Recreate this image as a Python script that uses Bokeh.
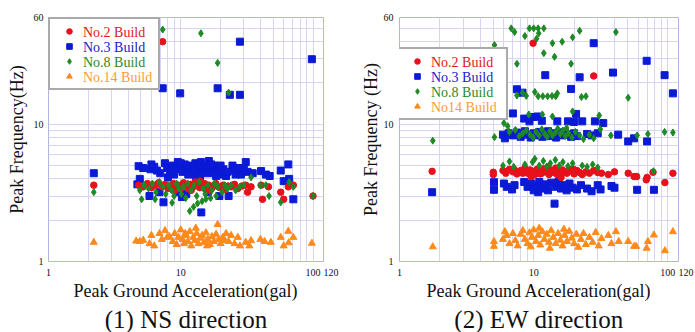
from bokeh.plotting import figure
from bokeh.models import (FixedTicker, Legend, LegendItem, Title, Range1d,
                          NumeralTickFormatter)
from bokeh.layouts import row
from bokeh.embed import file_html
from bokeh.resources import INLINE

# ---------------- axes -----------------
X_MIN, X_MAX = 1, 120
Y_MIN, Y_MAX = 1, 60
X_TICKS = [1, 10, 100, 120]
X_TICK_LABELS = {1: "1", 10: "10", 100: "100", 120: "\u2007\u2007\u2007120"}
X_MINOR = [2, 3, 4, 5, 6, 7, 8, 9, 20, 30, 40, 50, 60, 70, 80, 90]
Y_TICKS = [1, 10, 60]
Y_MINOR = [2, 3, 4, 5, 6, 7, 8, 9, 20, 30, 40, 50]
SERIES_NAMES_NS = ["No.2 Build", "No.3 Build", "No.8 Build", "No.14 Build"]
SERIES_NAMES_EW = ["No.2 Build", "No.3 Build", "No.8 Build", "No14 Build"]

# ---------------- NS direction data -----------------
ns_no2_x = [2.2, 7.3, 100, 4.8, 5.2, 5.6, 6.0, 6.4, 6.8, 7.2,
            7.6, 8.0, 8.4, 8.8, 9.2, 9.6, 10.1, 10.5, 11.0, 11.4,
            11.9, 12.4, 12.9, 13.4, 13.9, 14.5, 15.1, 15.7, 16.3, 17.0,
            17.7, 18.4, 19.2, 20.0, 20.9, 21.8, 22.8, 24.0, 25.5, 27.0,
            29.0, 31.0, 32.0, 34.0, 40.5, 41.5, 46.0, 57.0, 60.0, 65.0,
            71.0, 12.0, 14.0, 9.0, 16.5]
ns_no2_y = [3.6, 40, 3.0, 3.6, 3.5, 3.7, 3.45, 3.6, 3.75, 3.5,
            3.65, 3.4, 3.55, 3.7, 3.5, 3.6, 3.45, 3.75, 3.55, 3.4,
            3.65, 3.5, 3.8, 3.6, 3.45, 3.55, 3.7, 3.5, 3.6, 3.4,
            3.55, 3.7, 3.5, 3.45, 3.6, 3.35, 3.55, 3.5, 3.65, 3.4,
            3.55, 3.6, 3.2, 3.5, 3.6, 2.84, 3.5, 3.2, 2.84, 3.5,
            3.6, 3.3, 3.85, 3.3, 3.3]

ns_no3_x = [2.2, 7.3, 9.9, 19.0, 23.5, 28.0, 28.0, 98.0, 4.8, 5.2,
            5.9, 6.3, 6.6, 7.6, 7.9, 8.3, 8.7, 9.1, 9.5, 9.9,
            10.3, 10.7, 11.1, 11.6, 12.0, 12.4, 12.9, 13.3, 13.8, 14.2,
            14.7, 15.2, 15.7, 16.3, 16.9, 17.5, 18.1, 18.8, 19.5, 20.3,
            21.0, 24.6, 25.5, 27.0, 28.5, 31.0, 32.0, 40.5, 44.0, 47.0,
            57.0, 65.0, 66.0, 60.0, 4.9, 4.7, 5.8, 6.9, 7.4, 9.3,
            10.2, 11.0, 14.3, 16.0, 19.6, 23.0, 71.0, 8.0, 13.0, 22.0,
            6.0, 7.0, 8.9, 10.0, 11.4, 12.7, 14.0, 15.5, 17.0, 18.5,
            20.0, 22.5, 26.0, 30.0, 35.0]
ns_no3_y = [4.4, 18.3, 16.8, 18.3, 16.4, 16.4, 40.0, 29.8, 4.95, 4.8,
            4.7, 4.9, 4.6, 5.2, 4.8, 4.5, 5.0, 4.7, 5.3, 4.9,
            4.5, 5.1, 4.7, 5.0, 4.4, 4.8, 5.2, 4.6, 4.9, 5.3,
            4.5, 5.0, 4.7, 5.4, 4.8, 4.4, 5.0, 4.6, 4.9, 4.3,
            4.7, 5.0, 4.6, 4.8, 4.3, 5.3, 4.5, 4.56, 4.3, 4.2,
            4.6, 5.1, 4.0, 3.85, 4.0, 3.65, 3.0, 3.2, 2.7, 3.2,
            2.95, 3.1, 2.28, 3.2, 3.0, 3.0, 2.84, 4.1, 4.2, 4.2,
            5.1, 4.4, 4.3, 5.2, 4.3, 4.6, 4.2, 4.4, 5.1, 4.2,
            5.0, 4.5, 4.3, 4.8, 4.4]

ns_no8_x = [2.2, 7.3, 14.2, 19.0, 23.0, 100.0, 5.06, 6.4, 8.6, 4.9,
            5.3, 5.7, 6.1, 6.5, 6.9, 7.3, 7.7, 8.1, 8.5, 8.9,
            9.3, 9.7, 10.1, 10.5, 10.9, 11.3, 11.7, 12.5, 13.4, 14.5,
            15.5, 16.8, 18.5, 12.0, 12.6, 13.2, 13.8, 14.8, 15.3, 16.0,
            17.2, 18.0, 19.0, 20.5, 21.5, 22.5, 24.0, 26.0, 34.0, 40.0,
            44.0, 46.5, 57.0, 66.0, 71.0, 28.0, 30.0]
ns_no8_y = [3.2, 49.0, 46.0, 28.0, 17.0, 3.0, 2.84, 2.84, 2.68, 3.3,
            3.6, 3.4, 3.7, 3.2, 3.8, 3.5, 3.1, 3.6, 3.3, 3.0,
            3.7, 3.4, 3.1, 3.5, 2.9, 3.7, 2.33, 2.5, 2.65, 2.75,
            2.85, 2.9, 3.0, 3.3, 3.6, 3.0, 3.8, 3.4, 3.1, 3.6,
            3.3, 3.7, 3.5, 3.2, 3.6, 3.4, 3.6, 3.3, 4.1, 3.6,
            3.6, 3.0, 2.7, 3.8, 3.5, 3.5, 3.6]

ns_no14_x = [2.2, 4.6, 4.9, 5.2, 5.8, 6.0, 6.3, 6.9, 7.2, 7.6,
             7.9, 8.7, 9.0, 9.3, 9.6, 10.0, 10.3, 10.6, 11.0, 11.3,
             11.7, 12.0, 12.4, 12.8, 13.2, 13.6, 14.0, 14.5, 15.0, 15.5,
             16.0, 16.6, 17.2, 17.8, 18.5, 19.0, 19.3, 20.0, 20.8, 21.5,
             22.0, 23.0, 24.0, 25.5, 27.0, 28.0, 31.0, 33.0, 34.0, 40.0,
             43.0, 48.0, 57.0, 60.0, 65.0, 65.5, 71.0, 98.0, 8.2, 10.8,
             13.0, 15.8]
ns_no14_y = [1.38, 1.41, 1.4, 1.43, 1.35, 1.55, 1.3, 1.6, 1.45, 1.68,
             1.5, 1.4, 1.6, 1.33, 1.5, 1.7, 1.45, 1.35, 1.55, 1.4,
             1.65, 1.3, 1.5, 1.42, 1.6, 1.35, 1.48, 1.55, 1.38, 1.62,
             1.45, 1.33, 1.52, 1.4, 1.58, 1.86, 1.45, 1.35, 1.5, 1.42,
             1.6, 1.4, 1.55, 1.35, 1.5, 1.3, 1.38, 1.3, 1.42, 1.45,
             1.4, 1.38, 1.5, 1.3, 1.66, 1.37, 1.5, 1.36, 1.52, 1.6,
             1.75, 1.3]

# ---------------- EW direction data -----------------
ew_no2_x = [1.75, 9.9, 28.0, 5.0, 5.0, 5.9, 6.2, 6.6, 7.0, 7.5,
            8.0, 8.6, 9.0, 9.4, 9.8, 10.2, 10.6, 11.0, 11.5, 12.0,
            12.5, 13.0, 13.5, 14.0, 14.6, 15.2, 15.8, 16.4, 17.0, 17.7,
            18.4, 19.2, 20.0, 21.0, 22.0, 23.0, 24.5, 26.0, 28.0, 30.0,
            32.0, 50.6, 56.0, 58.5, 69.0, 70.0, 77.5, 95.0, 109.0, 36.0,
            40.0, 9.6, 12.8, 16.0, 10.4, 11.2, 13.2, 15.0, 18.0, 19.8,
            7.2, 8.3]
ew_no2_y = [4.54, 39.0, 22.5, 4.47, 4.3, 4.6, 4.4, 4.7, 4.5, 4.35,
            4.6, 4.8, 4.4, 4.65, 4.5, 4.3, 4.7, 4.55, 4.4, 4.75,
            4.5, 4.3, 4.6, 4.45, 4.8, 4.5, 4.35, 4.65, 4.5, 4.4,
            4.7, 4.55, 4.35, 4.6, 4.45, 4.3, 4.5, 4.4, 4.6, 4.45,
            4.4, 4.4, 4.16, 4.16, 3.94, 4.1, 4.47, 3.76, 4.4, 4.3,
            4.5, 4.15, 4.9, 4.1, 4.5, 4.35, 4.55, 4.3, 4.5, 4.7,
            4.65, 4.4]

ew_no3_x = [1.75, 28.0, 12.2, 22.0, 39.0, 69.5, 94.5, 109.0, 7.5, 8.25,
            19.0, 7.0, 8.5, 9.3, 10.0, 10.7, 11.5, 15.0, 18.0, 20.0,
            20.7, 23.0, 28.6, 33.0, 5.9, 6.1, 6.5, 7.0, 7.5, 8.0,
            8.6, 9.0, 9.5, 10.0, 10.5, 11.0, 11.6, 12.2, 12.8, 13.4,
            14.0, 14.7, 15.4, 16.2, 17.0, 18.0, 19.0, 20.0, 21.0, 25.0,
            27.0, 30.0, 42.6, 50.6, 56.0, 70.0, 5.06, 5.06, 6.0, 6.3,
            6.9, 7.2, 8.5, 9.0, 9.6, 10.0, 10.4, 11.0, 11.6, 12.2,
            12.8, 13.5, 14.3, 14.6, 15.3, 16.0, 16.8, 17.6, 18.5, 19.5,
            21.0, 22.5, 25.0, 27.0, 30.0, 31.5, 38.0, 40.0, 59.0, 78.7,
            10.8]
ew_no3_y = [3.2, 39.0, 22.8, 22.0, 23.8, 29.0, 22.8, 16.8, 18.0, 17.0,
            18.1, 12.0, 11.0, 10.5, 11.3, 11.4, 10.6, 10.5, 10.5, 10.4,
            11.9, 10.5, 10.5, 10.2, 8.4, 7.9, 8.6, 8.3, 8.7, 8.1,
            8.9, 8.4, 8.0, 8.6, 8.3, 8.8, 8.1, 8.5, 8.9, 8.2,
            8.6, 8.0, 8.7, 8.3, 8.8, 8.4, 8.1, 8.6, 8.2, 8.5,
            8.3, 8.6, 8.4, 7.5, 7.9, 7.5, 3.78, 3.33, 3.7, 3.5,
            3.35, 3.6, 3.8, 3.5, 3.7, 3.3, 3.55, 3.8, 3.4, 3.65,
            3.3, 3.75, 2.64, 3.5, 3.8, 3.4, 3.6, 3.3, 3.7, 3.45,
            3.35, 3.6, 3.4, 3.25, 3.6, 3.35, 3.55, 3.45, 3.33, 3.33,
            3.2]

ew_no8_x = [6.8, 7.2, 8.6, 9.3, 10.0, 10.8, 11.9, 10.5, 10.9, 13.8,
            16.3, 19.5, 22.0, 41.0, 5.1, 11.9, 14.3, 7.5, 19.0, 7.5,
            8.25, 8.8, 10.2, 10.8, 11.7, 12.7, 13.7, 14.6, 15.0, 22.7,
            24.5, 50.6, 1.77, 5.1, 6.1, 6.0, 6.4, 9.2, 11.6, 13.8,
            19.5, 30.8, 6.6, 7.3, 7.8, 8.3, 8.8, 9.4, 9.9, 10.4,
            11.0, 11.5, 12.1, 12.6, 13.2, 13.8, 14.5, 15.1, 15.8, 16.5,
            17.2, 17.6, 18.2, 19.3, 20.5, 22.0, 23.5, 26.0, 28.0, 31.4,
            37.6, 59.0, 71.0, 94.5, 109.0, 5.9, 6.6, 7.1, 8.6, 9.8,
            10.2, 11.0, 11.8, 12.5, 13.3, 14.5, 15.5, 16.5, 18.0, 19.5,
            23.0, 25.0, 27.5, 30.0, 78.0]
ew_no8_y = [50.0, 47.0, 44.0, 50.0, 50.0, 50.0, 50.0, 42.0, 46.0, 39.0,
            40.0, 43.0, 48.0, 47.0, 37.8, 33.0, 31.0, 27.6, 27.6, 16.2,
            17.0, 16.1, 17.2, 16.0, 16.0, 16.0, 16.1, 16.0, 16.8, 15.8,
            16.0, 15.6, 7.6, 8.06, 12.0, 10.2, 9.7, 11.8, 11.8, 11.4,
            12.4, 11.6, 8.8, 9.1, 8.2, 8.6, 9.0, 8.4, 8.0, 8.8,
            8.3, 9.2, 8.5, 8.1, 8.9, 8.3, 8.7, 9.3, 8.5, 9.0,
            8.2, 9.4, 8.6, 8.0, 8.8, 8.3, 7.8, 8.4, 7.9, 9.2,
            8.3, 8.3, 8.5, 8.8, 8.7, 4.99, 5.36, 4.9, 5.1, 5.3,
            5.6, 5.0, 5.4, 4.9, 5.2, 5.5, 5.0, 5.3, 4.95, 5.2,
            5.0, 4.9, 5.1, 4.85, 4.55]

ew_no14_x = [1.77, 5.06, 5.06, 5.9, 6.1, 6.3, 6.6, 7.0, 7.3, 7.6,
             8.0, 8.3, 8.6, 9.0, 9.3, 9.7, 10.0, 10.4, 10.8, 11.2,
             11.6, 12.0, 12.5, 13.0, 13.5, 14.0, 14.6, 15.2, 15.8, 16.4,
             17.0, 17.7, 18.4, 19.2, 20.0, 20.8, 21.5, 22.5, 23.5, 24.5,
             26.0, 27.5, 29.0, 30.5, 32.0, 36.0, 38.0, 41.0, 43.0, 50.6,
             56.0, 58.0, 69.5, 71.0, 78.7, 95.0, 109.0, 11.0, 13.2, 16.8,
             9.5]
ew_no14_y = [1.28, 1.4, 1.29, 1.45, 1.65, 1.55, 1.35, 1.6, 1.42, 1.3,
             1.58, 1.68, 1.45, 1.35, 1.62, 1.5, 1.7, 1.4, 1.55, 1.32,
             1.65, 1.45, 1.58, 1.38, 1.68, 1.5, 1.35, 1.6, 1.43, 1.3,
             1.55, 1.4, 1.66, 1.48, 1.35, 1.58, 1.27, 1.45, 1.6, 1.33,
             1.5, 1.38, 1.63, 1.3, 1.47, 1.55, 1.35, 1.65, 1.4, 1.4,
             1.29, 1.29, 1.25, 1.4, 1.56, 1.2, 1.65, 1.75, 1.25, 1.72,
             1.28]

# ---------------- styles -----------------
SERIF = "Liberation Serif"
GRID = "#d6d6f4"
FRAME = "#b4b4e6"
C_RED, C_BLUE, C_GREEN, C_ORANGE = "#e8101a", "#0a1ad6", "#1f8a25", "#ff8a1c"
T_RED, T_BLUE, T_GREEN, T_ORANGE = "#e01818", "#2020cc", "#2a8a2a", "#ff9a36"
FIG_H = 332
LEGEND_Y_FIX = 5  # observed offset of tuple-located legends


def build_panel(data, names, width, b_left, b_right, b_top, b_bottom, y_label, caption,
                leg_dx, leg_dy, ylab_standoff, ytick_standoff):
    p = figure(width=width, height=FIG_H, title=None,
               x_axis_type="log", y_axis_type="log",
               x_range=Range1d(X_MIN, X_MAX), y_range=Range1d(Y_MIN, Y_MAX),
               output_backend="svg", toolbar_location=None,
               min_border_left=b_left, min_border_right=b_right,
               min_border_top=b_top, min_border_bottom=b_bottom)
    p.background_fill_color = "white"
    p.border_fill_color = "white"
    p.outline_line_color = FRAME
    p.outline_line_width = 1

    xt = FixedTicker(ticks=X_TICKS, minor_ticks=X_MINOR)
    yt = FixedTicker(ticks=Y_TICKS, minor_ticks=Y_MINOR)
    p.xaxis.ticker = xt
    p.yaxis.ticker = yt
    p.xgrid.ticker = xt
    p.ygrid.ticker = yt
    for g in (p.xgrid[0], p.ygrid[0]):
        g.grid_line_color = GRID
        g.minor_grid_line_color = GRID
        g.grid_line_width = 1
        g.minor_grid_line_width = 1

    for ax in (p.xaxis[0], p.yaxis[0]):
        ax.formatter = NumeralTickFormatter(format="0")
        ax.axis_line_color = None
        ax.major_tick_line_color = None
        ax.minor_tick_line_color = None
        ax.major_tick_in = 0
        ax.major_tick_out = 0
        ax.minor_tick_in = 0
        ax.minor_tick_out = 0
        ax.major_label_text_font = SERIF
        ax.major_label_text_font_size = "10px"
        ax.major_label_text_color = "#111111"
        ax.axis_label_text_font = SERIF
        ax.axis_label_text_font_size = "18px"
        ax.axis_label_text_font_style = "normal"
        ax.axis_label_text_color = "#111111"
    p.xaxis.major_label_overrides = X_TICK_LABELS
    p.xaxis.axis_label = "Peak Ground Acceleration(gal)"
    p.xaxis.major_label_standoff = 5
    p.xaxis.axis_label_standoff = 0
    p.yaxis.axis_label = y_label
    p.yaxis.major_label_standoff = ytick_standoff
    p.yaxis.axis_label_standoff = ylab_standoff

    (x2, y2), (x3, y3), (x8, y8), (x14, y14) = data
    r3 = p.scatter(x3, y3, marker="square", size=7, fill_color=C_BLUE, line_color=C_BLUE)
    r2 = p.scatter(x2, y2, marker="circle", size=6.5, fill_color=C_RED, line_color=C_RED)
    r8 = p.scatter(x8, y8, marker="diamond", size=7, fill_color=C_GREEN, line_color=C_GREEN)
    r14 = p.scatter(x14, y14, marker="triangle", size=7, fill_color=C_ORANGE, line_color=C_ORANGE)
    # empty, fully transparent renderer used only as the glyph of the text-only legends
    r_blank = p.scatter(x=[], y=[], marker="circle", size=1, fill_alpha=0, line_alpha=0)

    frame_h = FIG_H - b_top - b_bottom
    pad, row_h, spacing = 5, 14, 1
    leg_h = 2 * pad + 4 * row_h + 3 * spacing
    box = Legend(
        items=[LegendItem(label=" ", renderers=[r]) for r in (r2, r3, r8, r14)],
        location=(leg_dx, frame_h - leg_dy - leg_h - LEGEND_Y_FIX),
        orientation="vertical", margin=0, padding=pad, spacing=spacing,
        title_standoff=0,
        glyph_width=28, glyph_height=row_h, label_height=row_h, label_width=68,
        label_standoff=2, label_text_font_size="6px",
        border_line_color="#555555", border_line_width=2,
        background_fill_color="white", background_fill_alpha=1.0)
    p.add_layout(box)

    text_h = 20
    for i, (name, col) in enumerate(zip(names, (T_RED, T_BLUE, T_GREEN, T_ORANGE))):
        centre = leg_dy + pad + row_h / 2 + i * (row_h + spacing)
        tl = Legend(items=[LegendItem(label=name, renderers=[r_blank])],
                    location=(leg_dx + 34, frame_h - centre - text_h / 2 - LEGEND_Y_FIX),
                    orientation="vertical", margin=0, padding=0, spacing=0,
                    title_standoff=0,
                    glyph_width=1, glyph_height=text_h, label_height=text_h,
                    label_standoff=0, label_text_font=SERIF, label_text_font_size="14px",
                    label_text_color=col, border_line_color=None,
                    background_fill_alpha=0.0)
        p.add_layout(tl)

    p.add_layout(Title(text=caption, align="center", text_font=SERIF, text_font_size="25px",
                       text_font_style="normal", text_color="#111111", standoff=0), "below")
    return p


p1 = build_panel([(ns_no2_x, ns_no2_y), (ns_no3_x, ns_no3_y), (ns_no8_x, ns_no8_y),
                  (ns_no14_x, ns_no14_y)], SERIES_NAMES_NS,
                 width=345, b_left=48, b_right=22, b_top=17, b_bottom=70,
                 y_label="Peak Frequency(Hz)", caption="(1) NS direction",
                 leg_dx=0, leg_dy=0, ylab_standoff=4, ytick_standoff=5)
p2 = build_panel([(ew_no2_x, ew_no2_y), (ew_no3_x, ew_no3_y), (ew_no8_x, ew_no8_y),
                  (ew_no14_x, ew_no14_y)], SERIES_NAMES_EW,
                 width=350, b_left=54, b_right=17, b_top=15, b_bottom=70,
                 y_label="Peak Frequency (Hz)", caption="(2) EW direction",
                 leg_dx=-3, leg_dy=32, ylab_standoff=0, ytick_standoff=6)

layout = row(p1, p2)
open("out.html", "w").write(file_html(layout, INLINE))
